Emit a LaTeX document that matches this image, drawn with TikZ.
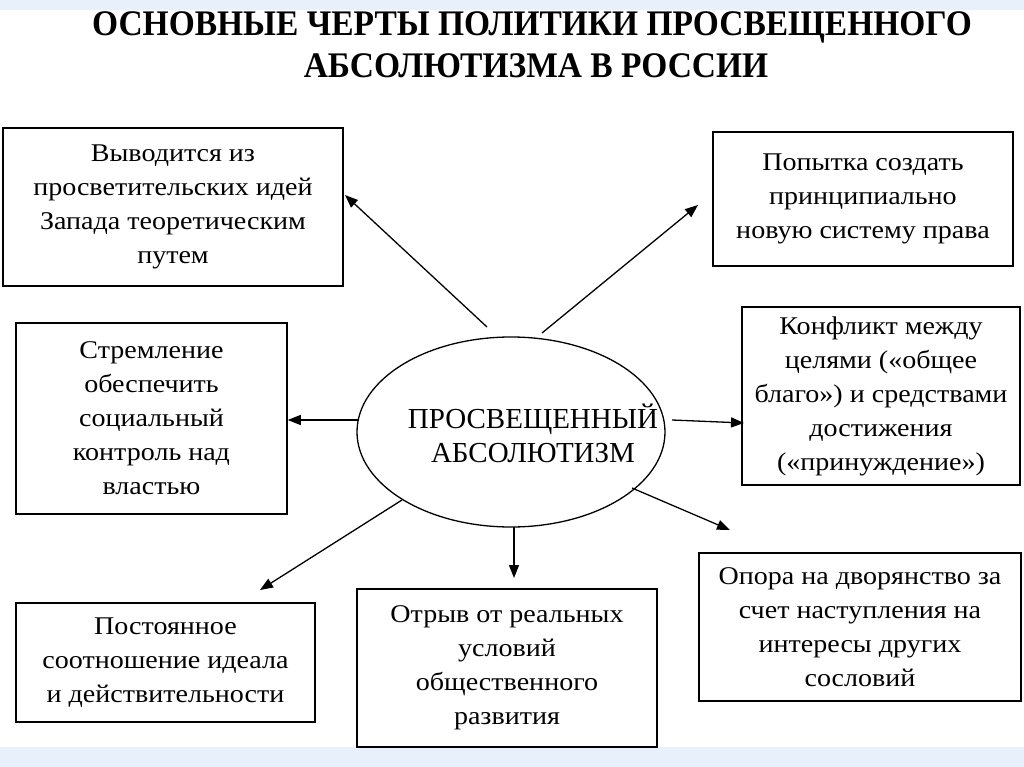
\documentclass[tikz,border=0pt]{standalone}
\usepackage{fontspec}
\setmainfont{Liberation Serif}
\newfontfamily\bodyf[FakeStretch=1.1]{Liberation Serif}
\newfontfamily\titlef[FakeStretch=0.93]{Liberation Serif Bold}
\newfontfamily\ellf{Liberation Serif}
\usetikzlibrary{shapes.geometric,arrows.meta}
\definecolor{slidebg}{HTML}{E8F1FB}
\tikzset{
  box/.style={draw=black, line width=1.6pt, align=center, inner sep=0pt,
    font=\bodyf\fontsize{25.5}{34}\selectfont},
  arr/.style={line width=1.3pt, -{Triangle[length=13pt,width=10pt]}},
  ttl/.style={font=\titlef\fontsize{36}{40}\selectfont, inner sep=0pt},
}
\begin{document}
\begin{tikzpicture}[x=1pt,y=-1pt]
\useasboundingbox (0,0) rectangle (1024,767);
\fill[slidebg] (0,0) rectangle (1024,10);
\fill[slidebg] (0,747) rectangle (1024,767);
% title
\node[ttl] (t1) at (532,27) {ОСНОВНЫЕ ЧЕРТЫ ПОЛИТИКИ ПРОСВЕЩЕННОГО};
\node[ttl] (t2) at (536,66) {АБСОЛЮТИЗМА В РОССИИ};
% centre
\node[draw=black, line width=1.3pt, ellipse, minimum width=308pt, minimum height=190pt, inner sep=0pt] (ell) at (511,432) {};
\node[font=\ellf\fontsize{29}{34}\selectfont, align=center, inner sep=0pt] (elltext) at (533,433) {ПРОСВЕЩЕННЫЙ\\АБСОЛЮТИЗМ};
% boxes
\node[box, minimum width=340pt, minimum height=158pt] (b1) at (173,207)
  {Выводится из\\просветительских идей\\Запада теоретическим\\путем};
\node[box, minimum width=300pt, minimum height=134pt] (b2) at (863,199)
  {Попытка создать\\принципиально\\новую систему права};
\node[box, minimum width=278pt, minimum height=178pt] (b3) at (881,396)
  {Конфликт между\\целями («общее\\благо») и средствами\\достижения\\(«принуждение»)};
\node[box, minimum width=271pt, minimum height=191pt] (b4) at (151.5,418.5)
  {Стремление\\обеспечить\\социальный\\контроль над\\властью};
\node[box, minimum width=299pt, minimum height=119pt] (b5) at (165.5,662.5)
  {Постоянное\\соотношение идеала\\и действительности};
\node[box, minimum width=300pt, minimum height=158pt] (b6) at (507,668)
  {Отрыв от реальных\\условий\\общественного\\развития};
\node[box, minimum width=322pt, minimum height=148pt] (b7) at (860,627)
  {Опора на дворянство за\\счет наступления на\\интересы других\\сословий};
% arrow end points
\coordinate (s1) at (487,327); \coordinate (e1) at (345,195);
\coordinate (s2) at (542,333); \coordinate (e2) at (698,205);
\coordinate (s3) at (358,420);
\coordinate (e4) at (744,423); \coordinate (s4) at (672,420);
\coordinate (s5) at (402,500); \coordinate (e5) at (260,590);
\coordinate (s6) at (514,527); \coordinate (e6) at (514,578);
\coordinate (s7) at (632,488); \coordinate (e7) at (730,530);
\draw[arr] (s1) -- (e1);
\draw[arr] (s2) -- (e2);
\draw[arr] (s3) -- (b4.east |- s3);
\draw[arr] (s4) -- (e4);
\draw[arr] (s5) -- (e5);
\draw[arr] (s6) -- (e6);
\draw[arr] (s7) -- (e7);
\end{tikzpicture}
\end{document}
